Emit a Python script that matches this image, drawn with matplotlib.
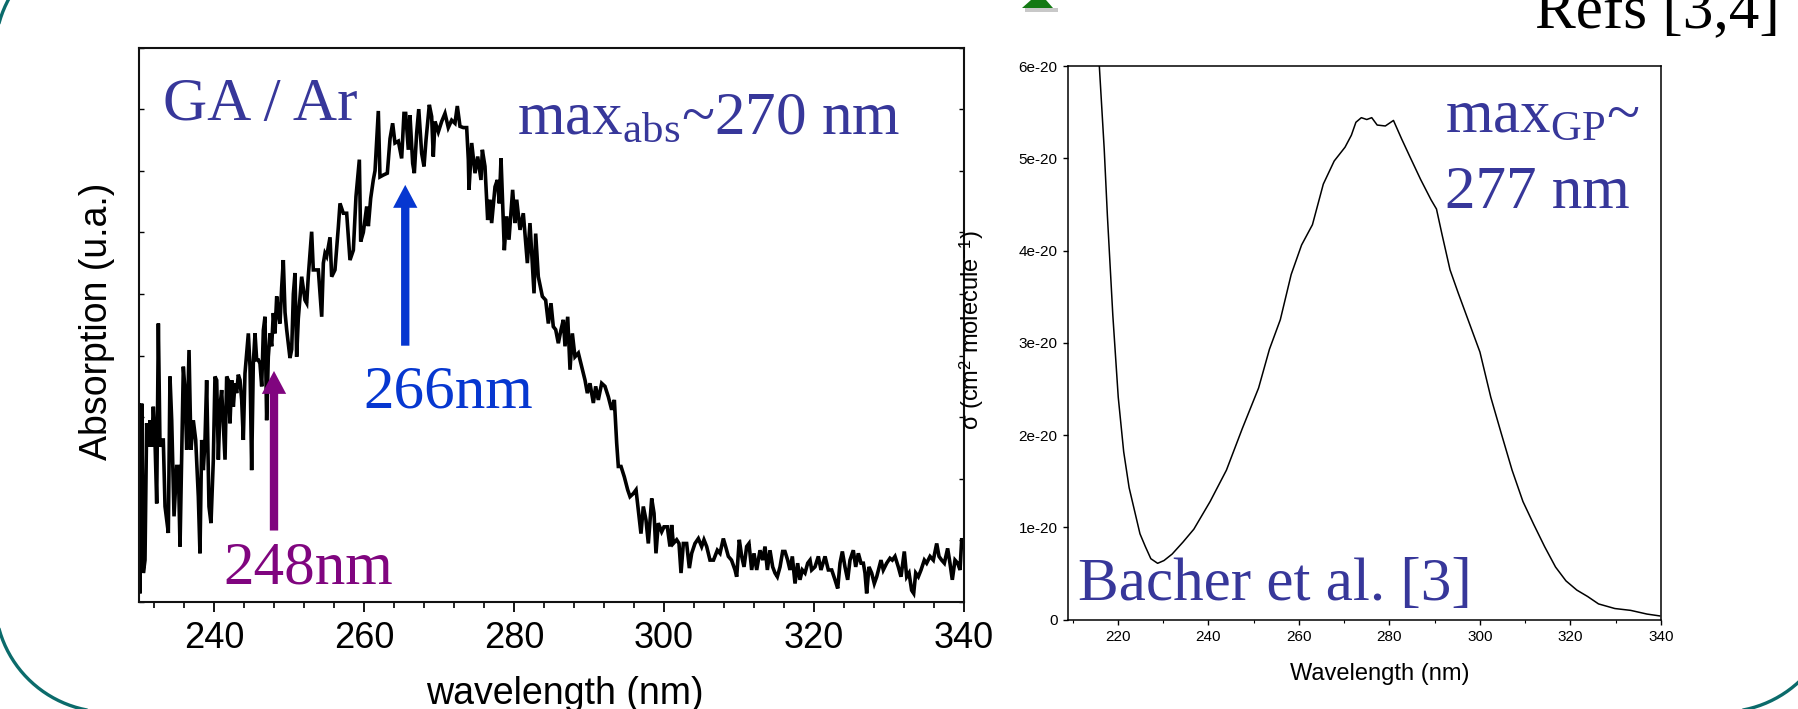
import matplotlib
matplotlib.use('Agg')
import matplotlib.pyplot as plt
from matplotlib.patches import Polygon, Rectangle
import numpy as np

plt.rcParams['mathtext.fontset'] = 'custom'
plt.rcParams['mathtext.rm'] = 'Liberation Serif'
plt.rcParams['mathtext.it'] = 'Liberation Serif:italic'
plt.rcParams['mathtext.sf'] = 'Liberation Sans'

# ---------------- data: GA/Ar absorption (arbitrary units) ----------------
wl_ga = [230.00, 230.13, 230.36, 230.58, 230.80, 231.02, 231.24, 231.47, 231.69, 231.91,
         232.13, 232.36, 232.58, 232.80, 233.02, 233.24, 233.47, 233.91, 234.13, 234.36,
         234.67, 235.02, 235.24, 235.47, 235.91, 236.13, 236.36, 236.67, 236.93, 237.24,
         237.56, 237.91, 238.13, 238.36, 238.58, 238.80, 239.02, 239.33, 239.60, 239.91,
         240.13, 240.36, 240.58, 240.80, 241.02, 241.24, 241.47, 241.69, 241.91, 242.13,
         242.36, 242.58, 242.80, 243.02, 243.24, 243.47, 243.69, 243.91, 244.13, 244.36,
         244.58, 244.80, 245.02, 245.24, 245.47, 245.69, 245.91, 246.13, 246.36, 246.58,
         246.80, 247.02, 247.24, 247.47, 247.69, 247.91, 248.13, 248.36, 248.58, 248.80,
         249.02, 249.24, 249.47, 249.69, 250.13, 250.36, 250.58, 250.80, 251.02, 251.24,
         251.69, 252.13, 252.36, 252.58, 253.02, 253.24, 253.69, 253.91, 254.36, 254.58,
         254.80, 255.02, 255.47, 255.69, 256.13, 256.58, 256.80, 257.24, 257.69, 258.13,
         258.58, 258.93, 259.38, 259.56, 259.91, 260.36, 260.58, 260.89, 261.24, 261.47,
         261.91, 262.13, 262.58, 263.11, 263.47, 263.82, 264.13, 264.58, 265.02, 265.33,
         265.56, 265.91, 266.13, 266.49, 266.71, 267.02, 267.30, 267.69, 268.00, 268.27,
         268.71, 269.02, 269.24, 269.47, 269.91, 270.36, 270.80, 271.24, 271.69, 272.13,
         272.44, 272.80, 273.24, 273.69, 273.91, 274.00, 274.36, 274.80, 275.16, 275.60,
         275.78, 276.13, 276.49, 276.80, 277.02, 277.47, 277.78, 278.04, 278.27, 278.71,
         279.02, 279.33, 279.82, 280.13, 280.36, 280.80, 281.24, 281.78, 282.13, 282.36,
         282.67, 282.89, 283.24, 283.78, 284.22, 284.58, 284.93, 285.24, 285.56, 285.91,
         286.27, 286.58, 286.80, 287.16, 287.47, 287.78, 288.13, 288.58, 289.02, 289.47,
         289.78, 290.13, 290.58, 290.89, 291.24, 291.69, 292.13, 292.58, 293.02, 293.38,
         293.69, 293.91, 294.27, 294.71, 295.16, 295.47, 295.91, 296.27, 296.58, 296.93,
         297.24, 297.60, 297.91, 298.36, 298.67, 298.93, 299.24, 299.69, 300.00, 300.44,
         300.80, 301.02, 301.24, 301.69, 302.00, 302.27, 302.58, 303.02, 303.38, 303.69,
         304.13, 304.58, 305.02, 305.33, 305.69, 306.13, 306.60, 307.11, 307.47, 307.91,
         308.22, 308.58, 309.00, 309.47, 309.69, 310.04, 310.36, 310.67, 311.02, 311.33,
         311.69, 312.00, 312.36, 312.80, 313.16, 313.47, 313.78, 314.13, 314.49, 314.80,
         315.11, 315.47, 315.82, 316.13, 316.49, 316.80, 317.11, 317.47, 317.82, 318.13,
         318.44, 318.80, 319.16, 319.47, 319.69, 320.13, 320.58, 320.93, 321.47, 321.91,
         322.36, 322.80, 323.16, 323.47, 323.78, 324.13, 324.49, 324.80, 325.24, 325.56,
         325.91, 326.27, 326.58, 326.80, 327.02, 327.33, 327.69, 328.04, 328.36, 328.93,
         329.24, 329.69, 330.13, 330.44, 330.80, 331.24, 331.60, 332.04, 332.36, 332.67,
         333.02, 333.29, 333.56, 333.91, 334.27, 334.71, 335.02, 335.47, 335.91, 336.36,
         336.67, 337.02, 337.38, 337.82, 338.13, 338.44, 338.80, 339.16, 339.47, 339.69,
         340.00]
abs_ga = [3.20, 0.14, 3.22, 0.47, 0.68, 2.90, 2.52, 2.95, 2.52, 3.17,
          2.63, 1.60, 4.52, 2.52, 2.63, 2.63, 1.55, 1.12, 3.66, 2.95,
          1.39, 2.20, 2.20, 0.90, 3.82, 3.44, 2.47, 4.09, 2.47, 2.95,
          2.63, 1.71, 0.79, 2.63, 2.14, 2.63, 3.60, 1.55, 1.28, 2.31,
          3.66, 3.60, 2.31, 3.17, 3.44, 2.90, 2.31, 3.66, 3.60, 2.90,
          3.60, 3.17, 3.55, 3.39, 3.69, 3.60, 3.28, 2.63, 3.71, 4.04,
          4.36, 3.82, 2.14, 3.87, 4.36, 3.93, 3.93, 3.87, 3.50, 4.41,
          4.63, 2.95, 3.98, 4.36, 4.15, 4.69, 4.36, 4.96, 4.69, 4.52,
          5.10, 5.55, 4.70, 4.42, 3.96, 4.10, 5.00, 5.34, 3.98, 4.60,
          5.28, 4.90, 4.85, 5.30, 6.01, 5.39, 5.39, 5.39, 4.63, 5.50,
          5.66, 5.61, 5.92, 5.28, 5.39, 6.09, 6.47, 6.31, 6.31, 5.55,
          5.71, 6.58, 7.18, 5.85, 6.00, 6.42, 6.10, 6.55, 6.85, 7.00,
          7.97, 6.90, 6.93, 6.96, 7.52, 7.77, 7.45, 7.48, 7.20, 7.93,
          7.93, 7.34, 7.90, 7.12, 6.96, 7.61, 8.00, 7.28, 7.07, 7.50,
          8.07, 7.88, 7.23, 7.80, 7.63, 7.80, 7.93, 7.70, 7.82, 7.77,
          8.05, 7.72, 7.70, 7.70, 7.18, 6.69, 7.45, 6.96, 7.23, 6.85,
          7.34, 7.07, 6.20, 6.53, 6.15, 6.74, 6.85, 6.47, 7.20, 5.71,
          6.26, 5.88, 6.69, 6.15, 6.53, 6.04, 6.31, 5.50, 6.15, 5.66,
          5.01, 5.98, 5.28, 4.96, 4.90, 4.52, 4.85, 4.47, 4.42, 4.20,
          4.42, 4.58, 4.15, 4.63, 3.77, 4.36, 3.98, 4.04, 3.82, 3.60,
          3.39, 3.55, 3.23, 3.50, 3.28, 3.55, 3.50, 3.33, 3.12, 3.28,
          2.58, 2.20, 2.20, 2.03, 1.82, 1.71, 1.76, 1.82, 1.49, 1.11,
          1.55, 1.33, 0.95, 1.68, 1.44, 0.79, 1.28, 1.14, 1.22, 1.22,
          0.90, 1.25, 0.95, 1.01, 0.95, 0.47, 0.95, 0.95, 0.55, 0.79,
          0.95, 1.03, 0.90, 1.01, 0.90, 0.68, 0.68, 0.84, 0.79, 1.03,
          0.90, 0.74, 0.68, 0.52, 0.41, 1.01, 0.74, 0.57, 0.90, 0.95,
          0.52, 0.79, 0.52, 0.84, 0.68, 0.90, 0.52, 0.84, 0.57, 0.47,
          0.41, 0.57, 0.82, 0.82, 0.68, 0.52, 0.74, 0.30, 0.63, 0.36,
          0.52, 0.47, 0.63, 0.68, 0.52, 0.57, 0.74, 0.52, 0.74, 0.52,
          0.52, 0.36, 0.22, 0.63, 0.82, 0.57, 0.36, 0.68, 0.84, 0.57,
          0.79, 0.63, 0.63, 0.47, 0.14, 0.57, 0.47, 0.30, 0.41, 0.68,
          0.52, 0.63, 0.71, 0.68, 0.74, 0.57, 0.41, 0.82, 0.41, 0.47,
          0.19, 0.14, 0.47, 0.41, 0.52, 0.68, 0.63, 0.74, 0.68, 0.95,
          0.74, 0.68, 0.63, 0.87, 0.63, 0.36, 0.68, 0.63, 0.52, 1.01,
          1.01]

# ---------------- data: gas-phase cross section (Bacher et al.) ----------------
wl_gp = [215.8, 217.0, 217.7, 218.9, 220.1, 221.3, 222.5, 223.7, 224.9, 226.1,
         227.3, 228.8, 230.2, 232.0, 234.4, 236.8, 240.4, 244.0, 247.5, 251.1,
         253.5, 255.9, 258.3, 260.6, 263.0, 265.4, 267.8, 270.2, 271.6, 272.6,
         273.8, 275.0, 276.1, 277.3, 279.1, 280.9, 282.7, 284.5, 286.9, 289.2,
         290.4, 291.6, 293.4, 295.2, 297.6, 300.0, 302.4, 304.7, 307.1, 309.5,
         311.9, 314.3, 316.7, 319.0, 321.4, 323.8, 326.2, 329.8, 333.3, 336.9,
         339.7]
sigma_gp_e20 = [6.10, 5.10, 4.38, 3.30, 2.41, 1.82, 1.43, 1.18, 0.93, 0.79,
                0.66, 0.61, 0.64, 0.71, 0.84, 0.98, 1.28, 1.62, 2.07, 2.51,
                2.93, 3.25, 3.74, 4.06, 4.28, 4.72, 4.97, 5.12, 5.25, 5.39,
                5.44, 5.42, 5.44, 5.36, 5.35, 5.41, 5.21, 5.02, 4.77, 4.55,
                4.45, 4.18, 3.79, 3.54, 3.22, 2.90, 2.41, 2.02, 1.62, 1.28,
                1.03, 0.79, 0.57, 0.42, 0.32, 0.25, 0.17, 0.12, 0.10, 0.06,
                0.04]
sigma_gp = np.array(sigma_gp_e20) * 1e-20

left_xticks = [240, 260, 280, 300, 320, 340]
right_xticks = [220, 240, 260, 280, 300, 320, 340]
right_yticks = [0, 1e-20, 2e-20, 3e-20, 4e-20, 5e-20, 6e-20]
right_yticklabels = ['0', '1e-20', '2e-20', '3e-20', '4e-20', '5e-20', '6e-20']

arrow_266 = (265.5, 4.16, 6.77)   # wavelength, tail, tip
arrow_248 = (248.0, 1.16, 3.75)

# ---------------- styling ----------------
SANS = ['Liberation Sans', 'DejaVu Sans']
SERIF = ['Liberation Serif', 'DejaVu Serif']
SLATE = '#37379a'
BLUE = '#0637d0'
PURPLE = '#80057f'
TEAL = '#0b6b6b'

W, H = 1799, 709
fig = plt.figure(figsize=(W / 100, H / 100), dpi=100)
fig.patch.set_facecolor('white')

# background canvas in pixel coordinates (y downward)
bg = fig.add_axes([0, 0, 1, 1], zorder=-10)
bg.set_xlim(0, W)
bg.set_ylim(H, 0)
bg.axis('off')


def rounded_outline(x0, y0, x1, y1, r, n=60):
    xs, ys = [], []
    for cx, cy, a0 in [(x0 + r, y0 + r, 180), (x1 - r, y0 + r, 270),
                       (x1 - r, y1 - r, 0), (x0 + r, y1 - r, 90)]:
        t = np.radians(np.linspace(a0, a0 + 90, n))
        xs.extend(cx + r * np.cos(t))
        ys.extend(cy + r * np.sin(t))
    xs.append(xs[0])
    ys.append(ys[0])
    return xs, ys


bx, by = rounded_outline(-5, -60, 1835, 712, 113)
bg.plot(bx, by, color=TEAL, lw=2.4, solid_capstyle='round')
bg.add_patch(Polygon([(1031, 0), (1046, 0), (1053, 8), (1022, 8)], closed=True,
                     fc='#147a14', ec='none'))
bg.add_patch(Rectangle((1025, 8), 33, 4, fc='#c8c8c8', ec='none'))
T = bg.transData

# ---------------- left panel ----------------
ax1 = fig.add_axes([139 / W, 1 - 602 / H, (964 - 139) / W, (602 - 47.5) / H])
ax1.plot(wl_ga, abs_ga, color='black', lw=2.6, solid_joinstyle='miter')
ax1.set_xlim(230, 340)
ax1.set_ylim(0, 9)
ax1.set_xticks(left_xticks)
ax1.set_xticks(np.arange(232, 340, 4), minor=True)
ax1.set_yticks(range(0, 10))
ax1.set_yticklabels([])
ax1.tick_params(axis='x', which='major', direction='out', length=7, width=1.3,
                pad=7, labelsize=26)
ax1.tick_params(axis='x', which='minor', direction='out', length=4, width=1.2)
ax1.tick_params(axis='y', which='major', direction='in', length=3.5, width=1.0,
                left=True, right=True)
for lab in ax1.get_xticklabels():
    lab.set_family(SANS)
for s in ax1.spines.values():
    s.set_linewidth(1.5)
    s.set_color('#111111')

ax1.annotate('', xy=(arrow_266[0], arrow_266[2]), xytext=(arrow_266[0], arrow_266[1]),
             arrowprops=dict(arrowstyle='simple,head_width=1.75,head_length=1.65,tail_width=0.6',
                             mutation_scale=10, color=BLUE, shrinkA=0, shrinkB=0, lw=0))
ax1.annotate('', xy=(arrow_248[0], arrow_248[2]), xytext=(arrow_248[0], arrow_248[1]),
             arrowprops=dict(arrowstyle='simple,head_width=1.75,head_length=1.65,tail_width=0.6',
                             mutation_scale=10, color=PURPLE, shrinkA=0, shrinkB=0, lw=0))

fig.text(97, 321, 'Absorption (u.a.)', rotation=90, ha='center', va='center',
         fontsize=27, family=SANS, transform=T)
fig.text(565, 704, 'wavelength (nm)', ha='center', va='baseline',
         fontsize=27, family=SANS, transform=T)

# ---------------- right panel ----------------
ax2 = fig.add_axes([1068 / W, 1 - 619.6 / H, (1661 - 1068) / W, (619.6 - 66) / H])
ax2.plot(wl_gp, sigma_gp, color='black', lw=1.1)
ax2.set_xlim(209, 340)
ax2.set_ylim(0, 6e-20)
ax2.set_xticks(right_xticks)
ax2.set_xticks(np.arange(210, 341, 10), minor=True)
ax2.set_yticks(right_yticks)
ax2.set_yticklabels(right_yticklabels)
ax2.tick_params(axis='both', which='major', direction='out', length=3.5, width=1.0,
                labelsize=11, pad=4)
ax2.tick_params(axis='x', which='minor', direction='out', length=2, width=0.8)
for lab in ax2.get_xticklabels() + ax2.get_yticklabels():
    lab.set_family(SANS)
for s in ax2.spines.values():
    s.set_linewidth(1.1)

fig.text(972, 330, r'σ (cm$^{\mathsf{2}}$ molecule$^{\mathsf{-1}}$)', rotation=90,
         ha='center', va='center', fontsize=17, family=SANS, transform=T)
fig.text(1380, 680, 'Wavelength (nm)', ha='center', va='baseline',
         fontsize=17, family=SANS, transform=T)

# ---------------- annotation texts ----------------
BIG = 44
fig.text(163, 120, 'GA\u2009/\u2009Ar', fontsize=BIG, family=SERIF, color=SLATE,
         transform=T, ha='left', va='baseline')
fig.text(517, 134, r'max$_{\mathrm{abs}}$~270 nm', fontsize=BIG, family=SERIF,
         color=SLATE, transform=T, ha='left', va='baseline')
fig.text(363, 407, '266nm', fontsize=BIG, family=SERIF, color=BLUE, transform=T,
         ha='left', va='baseline')
fig.text(223, 583, '248nm', fontsize=BIG, family=SERIF, color=PURPLE, transform=T,
         ha='left', va='baseline')
fig.text(1445, 132, r'max$_{\mathrm{GP}}$~', fontsize=BIG, family=SERIF, color=SLATE,
         transform=T, ha='left', va='baseline')
fig.text(1445, 208, '277 nm', fontsize=BIG, family=SERIF, color=SLATE, transform=T,
         ha='left', va='baseline')
fig.text(1078, 600, 'Bacher et al. [3]', fontsize=BIG, family=SERIF, color=SLATE,
         transform=T, ha='left', va='baseline')
fig.text(1535, 28, 'Refs [3,4]', fontsize=BIG, family=SERIF, color='black',
         transform=T, ha='left', va='baseline')

fig.savefig('out.png', dpi=100, facecolor='white')
